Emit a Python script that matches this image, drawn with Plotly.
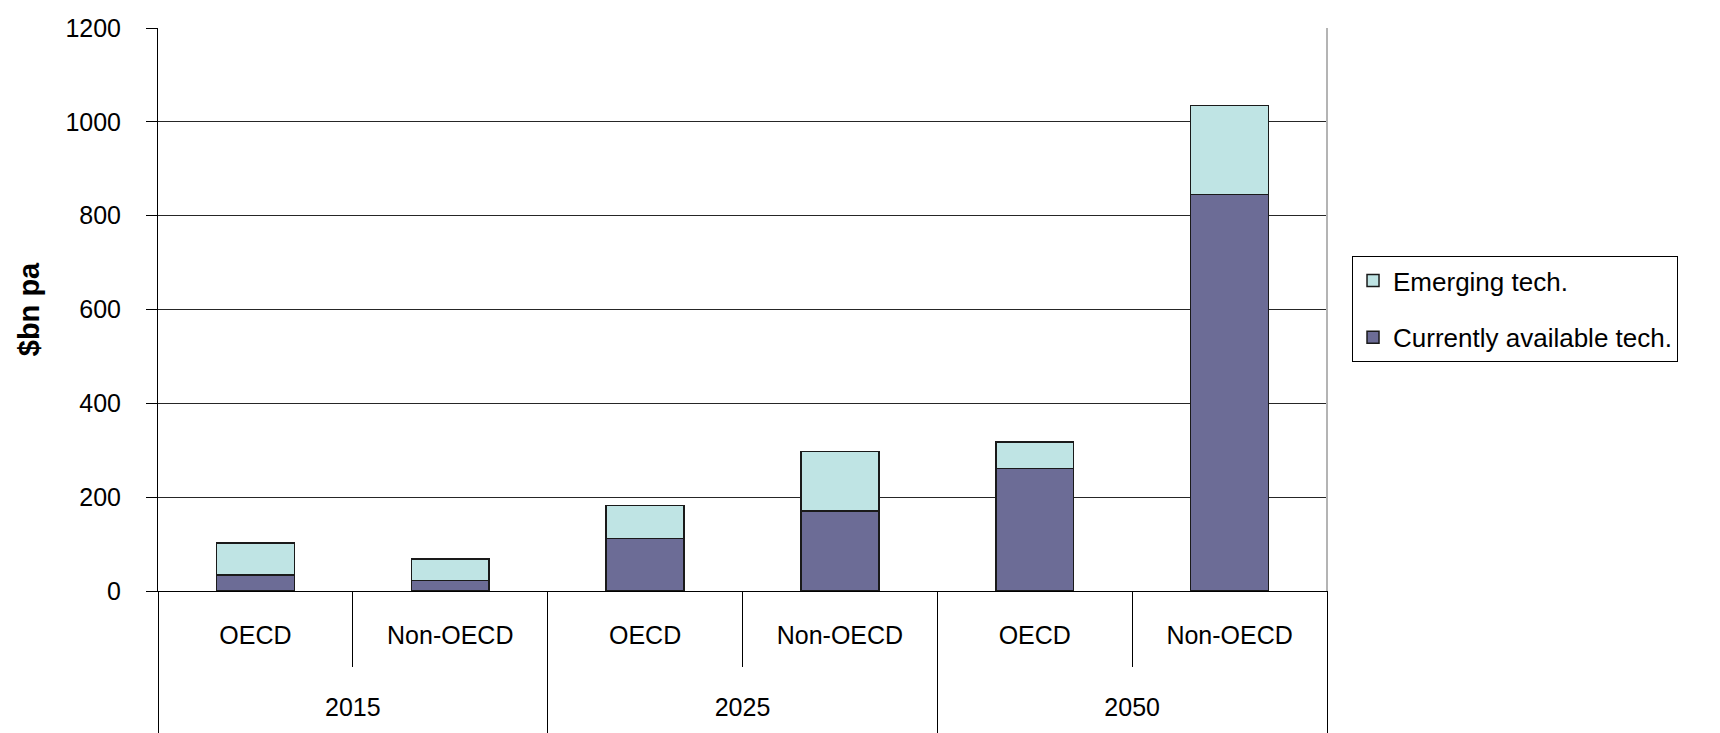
import plotly.graph_objects as go

# ---- data ----
years = ["2015", "2025", "2050"]
regions = ["OECD", "Non-OECD", "OECD", "Non-OECD", "OECD", "Non-OECD"]
current_tech = [34, 22, 112, 171, 261, 845]
emerging_tech = [68, 46, 70, 126, 57, 190]
y_ticks = [0, 200, 400, 600, 800, 1000, 1200]

FONT = "Arial, Liberation Sans, sans-serif"

n_bars = len(regions)
n_groups = len(years)
per_group = n_bars // n_groups
pos = list(range(n_bars))
x_range = [-0.5, n_bars - 0.5]
inner_bounds = [g * per_group + j - 0.5 for g in range(n_groups) for j in range(1, per_group)]
outer_bounds = [g * per_group - 0.5 for g in range(n_groups + 1)]
group_centers = [g * per_group + (per_group - 1) / 2 for g in range(n_groups)]

fig = go.Figure()
fig.add_trace(go.Bar(
    x=pos, y=current_tech, name="Currently available tech.",
    marker=dict(color="#6c6c96", line=dict(color="#1a1a1a", width=1.5)),
    legendgroup="b", legendrank=2,
))
fig.add_trace(go.Bar(
    x=pos, y=emerging_tech, name="Emerging tech.",
    marker=dict(color="#bfe4e4", line=dict(color="#1a1a1a", width=1.5)),
    legendgroup="a", legendrank=1,
))
# invisible helper so that the year (outer category) axis is drawn
fig.add_trace(go.Scatter(
    x=group_centers, y=[0] * n_groups, xaxis="x2", yaxis="y",
    mode="markers", marker=dict(opacity=0, size=1),
    showlegend=False, hoverinfo="skip",
))

shapes = [dict(type="line", xref="x domain", yref="y domain", x0=1, x1=1, y0=0, y1=1,
               line=dict(color="#b4b4b4", width=2))]

fig.update_layout(
    barmode="stack",
    bargap=0.6,
    width=1720, height=733,
    margin=dict(l=158, r=393, t=28, b=0, autoexpand=False),
    paper_bgcolor="white", plot_bgcolor="white",
    font=dict(family=FONT, size=25, color="black"),
    shapes=shapes,
    showlegend=True,
    legend=dict(
        x=1.0214, xanchor="left", y=0.6766, yanchor="top",
        bordercolor="black", borderwidth=1, bgcolor="white",
        font=dict(family=FONT, size=26, color="black"),
        traceorder="grouped", tracegroupgap=20,
    ),
    xaxis=dict(
        range=x_range, tickvals=pos, ticktext=regions,
        showline=True, linecolor="black", linewidth=1,
        ticks="", ticklabelstandoff=22,
        minor=dict(tickvals=inner_bounds, ticks="outside", ticklen=75,
                   tickcolor="black", tickwidth=1, showgrid=False),
        tickfont=dict(family=FONT, size=25, color="black"),
        showgrid=False, zeroline=False, automargin=False,
    ),
    xaxis2=dict(
        overlaying="x", anchor="free", position=0, side="top",
        range=x_range, tickvals=group_centers, ticktext=years,
        showline=False, ticks="", ticklabelstandoff=12,
        minor=dict(tickvals=outer_bounds, ticks="outside", ticklen=142,
                   tickcolor="black", tickwidth=1, showgrid=False),
        tickfont=dict(family=FONT, size=25, color="black"),
        showgrid=False, zeroline=False, automargin=False,
    ),
    yaxis=dict(
        domain=[0.2014, 1],
        range=[0, 1200], tickvals=y_ticks, ticktext=[str(v) for v in y_ticks],
        showline=True, linecolor="black", linewidth=1,
        ticks="outside", ticklen=11, tickcolor="black", tickwidth=1,
        ticklabelstandoff=20,
        showgrid=True, gridcolor="#262626", gridwidth=1,
        zeroline=False, automargin=False,
        title=dict(text="<b>$bn pa</b>", font=dict(family=FONT, size=29, color="black"),
                   standoff=17),
        tickfont=dict(family=FONT, size=25, color="black"),
    ),
)

fig.write_html("out.html")
